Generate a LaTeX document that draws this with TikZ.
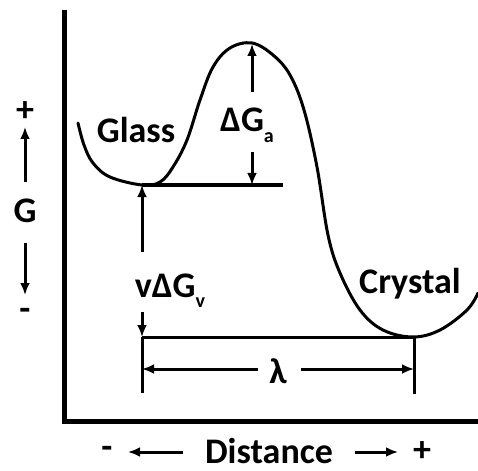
\documentclass[tikz,border=0pt]{standalone}
\usepackage{fontspec}
\setmainfont{Carlito}
\usetikzlibrary{arrows.meta}
\begin{document}
\begin{tikzpicture}[x=1pt,y=-1pt,
  lbl/.style={font=\bfseries\fontsize{36}{40}\selectfont, inner sep=0pt, anchor=base},
  sym/.style={font=\bfseries\fontsize{36}{40}\selectfont, inner sep=0pt},
  arr/.style={line width=3pt, -{Latex[length=12pt,width=10pt]}},
  ln/.style={line width=3pt}]
\useasboundingbox (0,0) rectangle (478,470);
% axes
\draw[line width=5pt, line join=miter] (64,10) -- (64,421) -- (478,421);
% energy curve
\draw[line width=3pt, line cap=round] plot[smooth, tension=0.6] coordinates {
 (78,123) (84,145) (93,163) (110,177) (142,185) (160,182) (173,167) (187,140)
 (200,100) (213,67) (230,48) (252,43) (273,55) (290,75) (304,110) (317,167)
 (328,235) (340,273) (360,310) (383,330) (413,337) (440,330) (467,310) (478,293)};
% coordinates
\coordinate (gmin) at (142,185);
\coordinate (gend) at (283,185);
\coordinate (peak) at (252,44);
\coordinate (dgaup) at (252,92);
\coordinate (dgadn) at (252,152);
\coordinate (dgabot) at (252,185);
\coordinate (vup) at (142,252);
\coordinate (vdn) at (142,312);
\coordinate (cl) at (142,337);
\coordinate (cr) at (414,337);
\coordinate (tl) at (142,393);
\coordinate (tr) at (414,394);
\coordinate (lamL) at (258,369);
\coordinate (lamLe) at (142,369);
\coordinate (lamR) at (301,369);
\coordinate (lamRe) at (414,369);
\coordinate (gupS) at (25,182);
\coordinate (gupE) at (25,127);
\coordinate (gdnS) at (25,243);
\coordinate (gdnE) at (25,295);
\coordinate (dlS) at (183,452);
\coordinate (dlE) at (128,452);
\coordinate (drS) at (355,452);
\coordinate (drE) at (398,452);
% labels
\node[lbl] (glass) at (136,143) {Glass};
\node[lbl] (dga) at (247,132) {ΔG\raisebox{-0.3em}{\fontsize{20}{20}\selectfont a}};
\node[lbl] (vdgv) at (170,297) {vΔG\raisebox{-0.3em}{\fontsize{20}{20}\selectfont v}};
\node[lbl] (crystal) at (410,293) {Crystal};
\node[lbl] (lam) at (278,383) {λ};
\node[lbl] (g) at (25,222) {G};
\node[lbl] (dist) at (269,463) {Distance};
\node[sym] (gplus) at (25,112) {+};
\node[sym] (gminus) at (25,314) {-};
\node[sym] (dminus) at (107,452) {-};
\node[sym] (dplus) at (422,452) {+};
% lines
\draw[ln] (gmin) -- (gend);
\draw[ln] (cl) -- (cr);
\draw[ln] (cl) -- (tl);
\draw[ln] (cr) -- (tr);
% arrows
\draw[arr] (dgaup) -- (peak);
\draw[arr] (dgadn) -- (dgabot);
\draw[arr] (vup) -- (gmin);
\draw[arr] (vdn) -- (cl);
\draw[arr] (lamL) -- (lamLe);
\draw[arr] (lamR) -- (lamRe);
\draw[arr] (gupS) -- (gupE);
\draw[arr] (gdnS) -- (gdnE);
\draw[arr] (dlS) -- (dlE);
\draw[arr] (drS) -- (drE);
\end{tikzpicture}
\end{document}
